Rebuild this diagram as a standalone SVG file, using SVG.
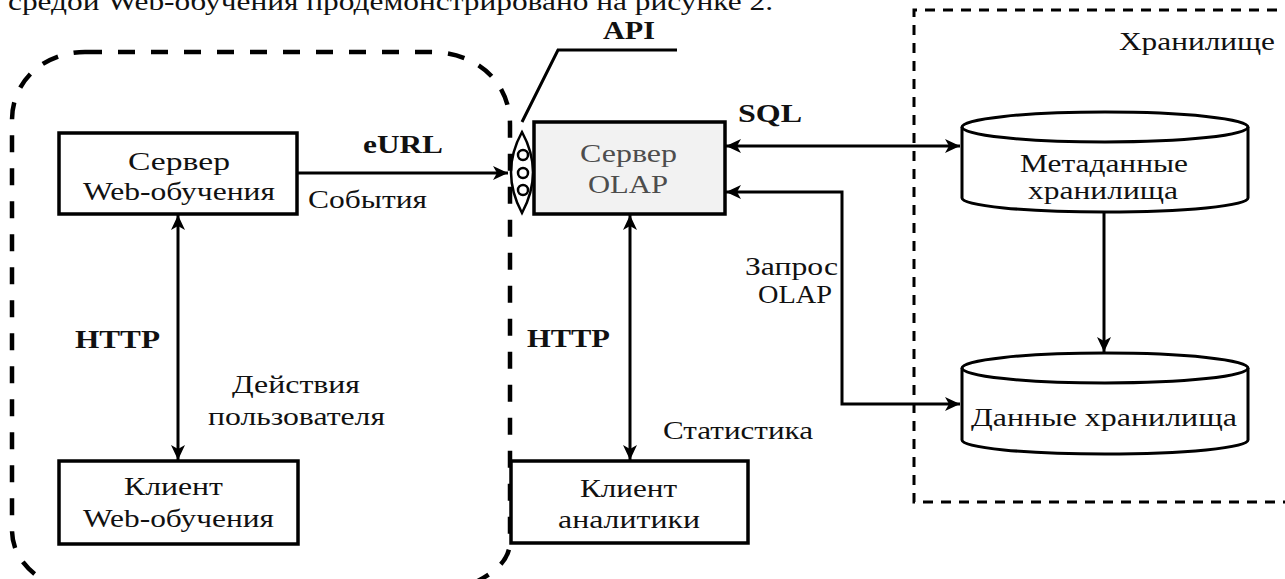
<svg xmlns="http://www.w3.org/2000/svg" width="1285" height="579" viewBox="0 0 1285 579">
<style>
text{font-family:"Liberation Serif","Times New Roman",serif;font-size:26px;fill:#111}
.b{font-weight:bold}
.g{fill:#4d4d4d}
.box{fill:#fff;stroke:#000;stroke-width:3.5}
.cyl{fill:#fff;stroke:#000;stroke-width:3}
.con{fill:none;stroke:#000;stroke-width:3}
.big{fill:none;stroke:#000;stroke-width:4.5;stroke-dasharray:17 16}
.small{fill:none;stroke:#000;stroke-width:3;stroke-dasharray:10 8}
</style>
<defs>
<marker id="ah" markerUnits="userSpaceOnUse" markerWidth="16" markerHeight="14" refX="15" refY="7" orient="auto-start-reverse" viewBox="0 0 16 14">
<path d="M0,0 L15,7 L0,14 L4,7 Z" fill="#000"/>
</marker>
</defs>
<text x="8" y="10" textLength="765" lengthAdjust="spacingAndGlyphs">средой Web-обучения продемонстрировано на рисунке 2.</text>
<g id="frame-web">
<path class="big" d="M85,52 H430 C475,52 510,80 510,125 V540 C510,558 500,570 472,584 L110,600 C55,595 12,570 12,530 V120 C12,80 45,52 85,52 Z"/>
</g>
<g id="frame-storage">
<path class="small" d="M1295,10 H914 V502 H1295"/>
<text x="1119" y="50" textLength="156" lengthAdjust="spacingAndGlyphs">Хранилище</text>
</g>
<g id="connectors">
<line class="con" x1="297" y1="173" x2="508" y2="173" marker-end="url(#ah)"/>
<line class="con" x1="178" y1="215" x2="178" y2="460" marker-start="url(#ah)" marker-end="url(#ah)"/>
<line class="con" x1="630" y1="215" x2="630" y2="460" marker-start="url(#ah)" marker-end="url(#ah)"/>
<line class="con" x1="726" y1="146" x2="960" y2="146" marker-start="url(#ah)" marker-end="url(#ah)"/>
<path class="con" d="M726,192 H842 V404 H960" marker-start="url(#ah)" marker-end="url(#ah)"/>
<line class="con" x1="1104" y1="213" x2="1104" y2="352" marker-end="url(#ah)"/>
<text class="b" x="363" y="153" textLength="80" lengthAdjust="spacingAndGlyphs">eURL</text>
<text x="308" y="208" textLength="119" lengthAdjust="spacingAndGlyphs">События</text>
<text class="b" x="75" y="348" textLength="85" lengthAdjust="spacingAndGlyphs">HTTP</text>
<text x="232" y="393" textLength="128" lengthAdjust="spacingAndGlyphs">Действия</text>
<text x="208" y="425" textLength="177" lengthAdjust="spacingAndGlyphs">пользователя</text>
<text class="b" x="527" y="347" textLength="83" lengthAdjust="spacingAndGlyphs">HTTP</text>
<text x="663" y="439" textLength="150" lengthAdjust="spacingAndGlyphs">Статистика</text>
<text class="b" x="738" y="122" textLength="64" lengthAdjust="spacingAndGlyphs">SQL</text>
<text x="745" y="275" textLength="93" lengthAdjust="spacingAndGlyphs">Запрос</text>
<text x="758" y="303" textLength="74" lengthAdjust="spacingAndGlyphs">OLAP</text>
</g>
<g id="web-server">
<rect class="box" x="59" y="133" width="238" height="81"/>
<text x="128" y="170" textLength="102" lengthAdjust="spacingAndGlyphs">Сервер</text>
<text x="83" y="200" textLength="192" lengthAdjust="spacingAndGlyphs">Web-обучения</text>
</g>
<g id="web-client">
<rect class="box" x="59" y="461" width="239" height="83"/>
<text x="124" y="495" textLength="99" lengthAdjust="spacingAndGlyphs">Клиент</text>
<text x="83" y="527" textLength="191" lengthAdjust="spacingAndGlyphs">Web-обучения</text>
</g>
<g id="api">
<path fill="none" stroke="#000" stroke-width="2.5" d="M522,132 Q500,172 522,213 Q544,172 522,132 Z"/>
<circle cx="523" cy="155" r="5" fill="#fff" stroke="#000" stroke-width="2.5"/>
<circle cx="523" cy="173" r="5" fill="#fff" stroke="#000" stroke-width="2.5"/>
<circle cx="523" cy="190" r="5" fill="#fff" stroke="#000" stroke-width="2.5"/>
<polyline fill="none" stroke="#000" stroke-width="3" points="522,122 558,50 677,50"/>
<text class="b" x="603" y="39" textLength="52" lengthAdjust="spacingAndGlyphs">API</text>
</g>
<g id="olap-server">
<rect class="box" x="534" y="122" width="191" height="92" style="fill:#f2f2f2"/>
<text class="g" x="580" y="162" textLength="97" lengthAdjust="spacingAndGlyphs">Сервер</text>
<text class="g" x="588" y="193" textLength="80" lengthAdjust="spacingAndGlyphs">OLAP</text>
</g>
<g id="analytics-client">
<rect class="box" x="511" y="461" width="237" height="82"/>
<text x="580" y="497" textLength="97" lengthAdjust="spacingAndGlyphs">Клиент</text>
<text x="558" y="528" textLength="142" lengthAdjust="spacingAndGlyphs">аналитики</text>
</g>
<g id="metadata">
<path class="cyl" d="M962,127 A143,15 0 0,1 1248,127 V198 A143,14 0 0,1 962,198 Z"/>
<path class="cyl" style="fill:none" d="M962,127 A143,15 0 0,0 1248,127"/>
<text x="1020" y="172" textLength="168" lengthAdjust="spacingAndGlyphs">Метаданные</text>
<text x="1028" y="199" textLength="150" lengthAdjust="spacingAndGlyphs">хранилища</text>
</g>
<g id="data">
<path class="cyl" d="M962,368 A143,15 0 0,1 1248,368 V440 A143,14 0 0,1 962,440 Z"/>
<path class="cyl" style="fill:none" d="M962,368 A143,15 0 0,0 1248,368"/>
<text x="971" y="426" textLength="266" lengthAdjust="spacingAndGlyphs">Данные хранилища</text>
</g>
</svg>
